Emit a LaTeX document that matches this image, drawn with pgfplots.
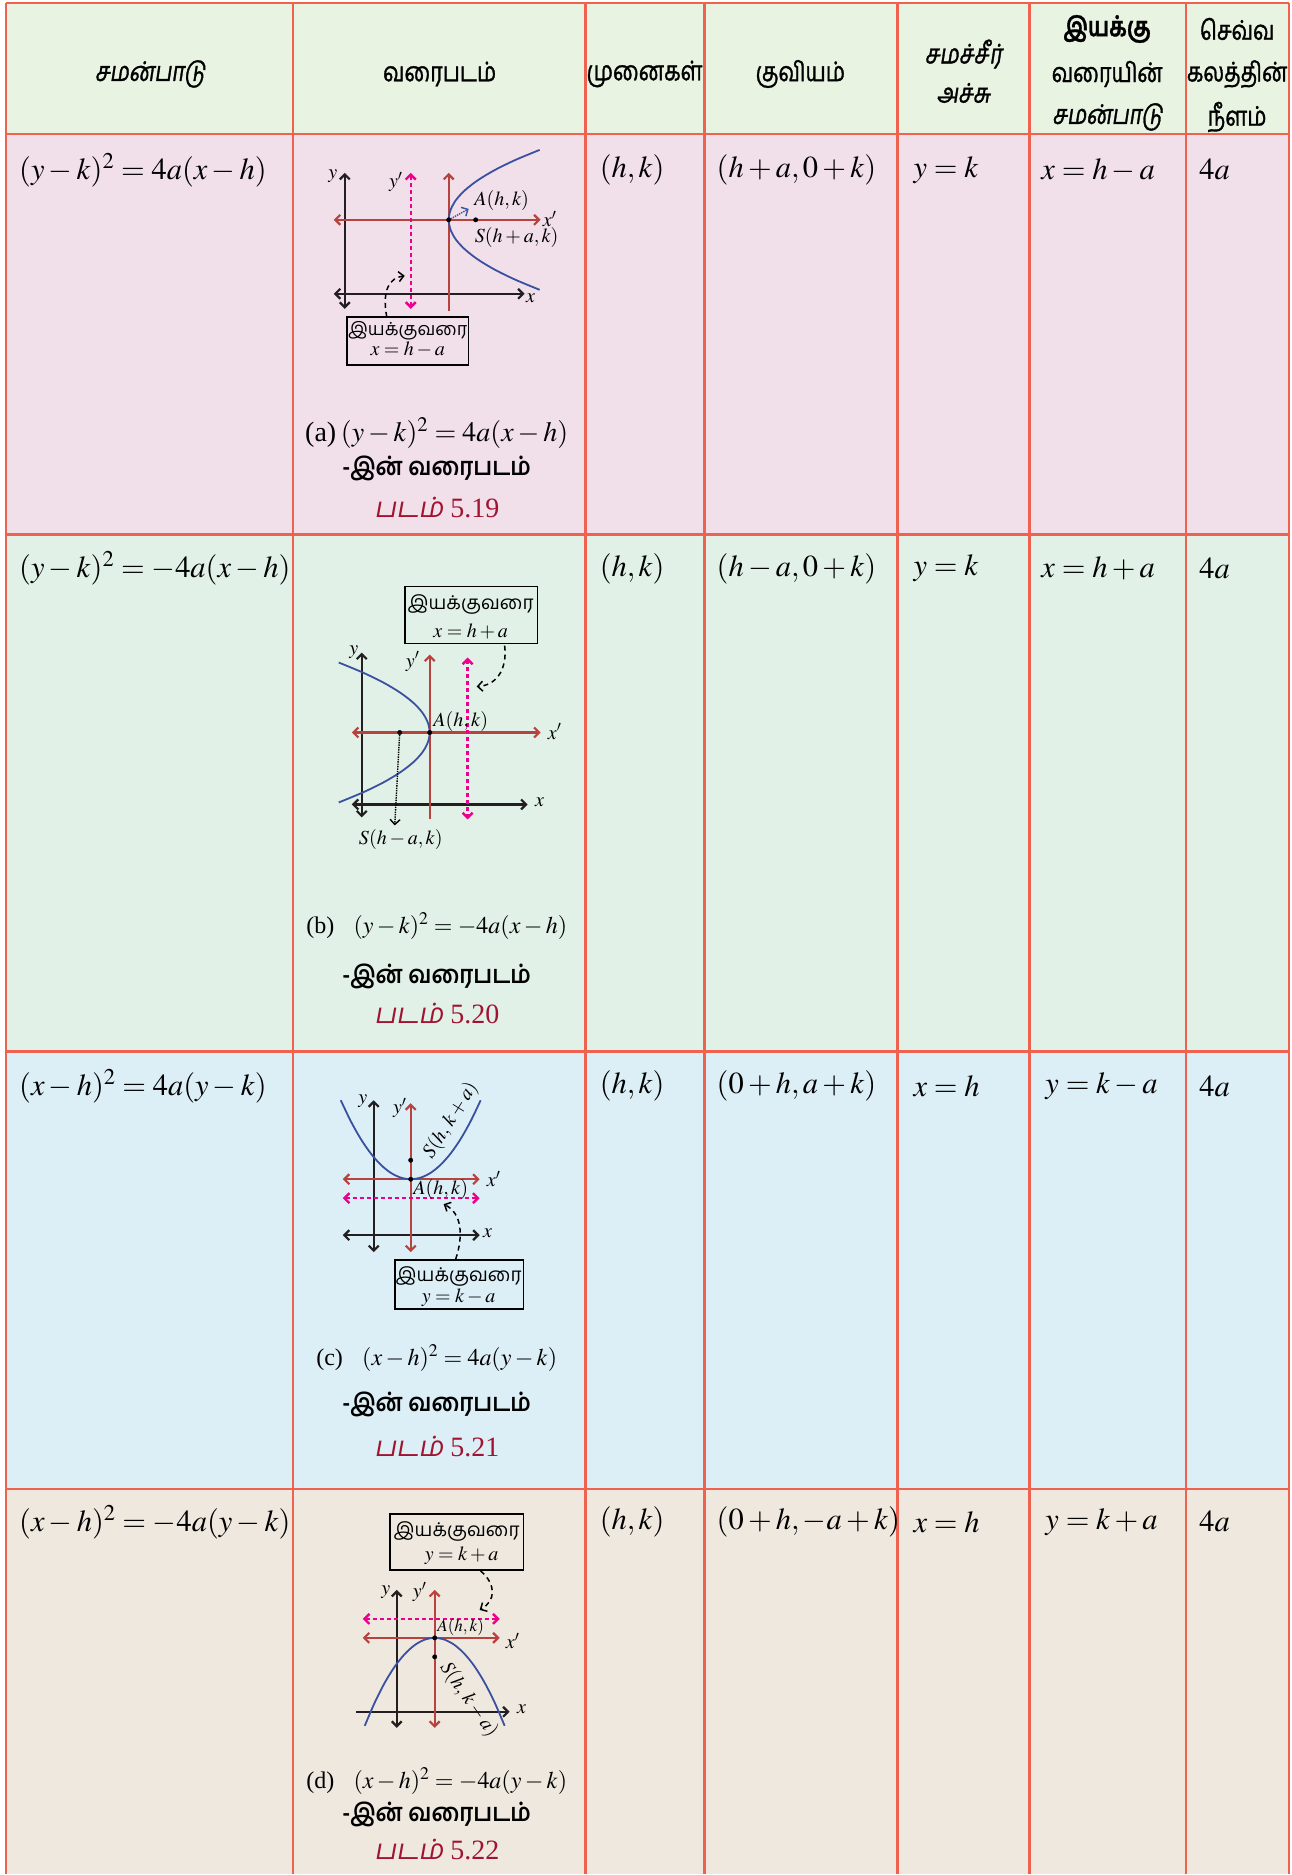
\documentclass[border=0pt]{standalone}
\usepackage{mathptmx}
\usepackage{fontspec}
\setmainfont{Liberation Serif}
\newfontfamily\tamil[Script=Tamil]{Hind Madurai}
\newfontfamily\tamilc[Script=Tamil,FakeStretch=0.8,FakeBold=1.2]{Hind Madurai}
\newfontfamily\tamilcs[Script=Tamil,FakeStretch=0.8,FakeSlant=0.15,FakeBold=1.2]{Hind Madurai}
\newfontfamily\tamilsl[Script=Tamil,FakeSlant=0.18]{Hind Madurai}
\newfontfamily\tamilb[Script=Tamil,FakeStretch=0.9]{Hind Madurai}
\usepackage{pgfplots}
\pgfplotsset{compat=1.18}
\usetikzlibrary{arrows.meta}
\definecolor{tred}{RGB}{240,98,80}
\definecolor{hdr}{RGB}{232,243,226}
\definecolor{rpink}{RGB}{241,223,234}
\definecolor{rgreen}{RGB}{226,241,231}
\definecolor{rblue}{RGB}{220,238,246}
\definecolor{rbeige}{RGB}{239,232,223}
\definecolor{dred}{RGB}{184,66,62}
\definecolor{dmag}{RGB}{236,0,140}
\definecolor{dblue}{RGB}{58,80,160}
\definecolor{dblack}{RGB}{35,31,32}
\definecolor{capred}{RGB}{160,20,50}
\tikzset{>={Straight Barb[length=5pt,width=10pt]}, every node/.style={inner sep=1pt},
  tcap/.style={text height=17pt, text depth=5pt}}
\newcommand{\Mb}[1]{\fontsize{30.5}{36}\selectfont$#1$}
\newcommand{\Md}[1]{\fontsize{20}{24}\selectfont$#1$}
\newcommand{\Hd}{\fontsize{27}{30}\selectfont\tamilc}
\newcommand{\Hds}{\fontsize{27}{30}\selectfont\tamilcs}
\newcommand{\Cb}{\fontsize{25}{28}\selectfont\tamilb\bfseries}
\newcommand{\Cr}[1]{\fontsize{28}{30}\selectfont{\tamilsl படம்} #1}
\begin{document}
\begin{tikzpicture}
\begin{axis}[scale only axis, width=1292pt, height=1875pt,
  xmin=0, xmax=1292, ymin=0, ymax=1875, y dir=reverse,
  hide axis, clip=false]
% backgrounds
\fill[white] (axis cs:0,0) rectangle (axis cs:1292,1875);
\fill[hdr] (axis cs:6,3) rectangle (axis cs:1290,134);
\fill[rpink] (axis cs:6,134) rectangle (axis cs:1290,535);
\fill[rgreen] (axis cs:6,535) rectangle (axis cs:1290,1052);
\fill[rblue] (axis cs:6,1052) rectangle (axis cs:1290,1490);
\fill[rbeige] (axis cs:6,1490) rectangle (axis cs:1290,1875);
% grid
\draw[tred, line width=2.6pt] (axis cs:6,3) -- (axis cs:1290,3);
\draw[tred, line width=2.6pt] (axis cs:6,134) -- (axis cs:1290,134);
\draw[tred, line width=2.6pt] (axis cs:6,535) -- (axis cs:1290,535);
\draw[tred, line width=2.6pt] (axis cs:6,1052) -- (axis cs:1290,1052);
\draw[tred, line width=2.6pt] (axis cs:6,1490) -- (axis cs:1290,1490);
\draw[tred, line width=2.6pt] (axis cs:6,3) -- (axis cs:6,1875);
\draw[tred, line width=2.6pt] (axis cs:293,3) -- (axis cs:293,1875);
\draw[tred, line width=2.6pt] (axis cs:586,3) -- (axis cs:586,1875);
\draw[tred, line width=2.6pt] (axis cs:705,3) -- (axis cs:705,1875);
\draw[tred, line width=2.6pt] (axis cs:898,3) -- (axis cs:898,1875);
\draw[tred, line width=2.6pt] (axis cs:1030,3) -- (axis cs:1030,1875);
\draw[tred, line width=2.6pt] (axis cs:1187,3) -- (axis cs:1187,1875);
\draw[tred, line width=2.6pt] (axis cs:1290,3) -- (axis cs:1290,1875);
% header
\node at (axis cs:150,74) {\Hds சமன்பாடு};
\node at (axis cs:440,74) {\Hd வரைபடம்};
\node at (axis cs:645,74) {\Hd முனைகள்};
\node at (axis cs:801,74) {\Hd குவியம்};
\node at (axis cs:964,54) {\Hds சமச்சீர்};
\node at (axis cs:964,93) {\Hds அச்சு};
\node at (axis cs:1108,29) {\Hd\bfseries இயக்கு};
\node at (axis cs:1108,74) {\Hd வரையின்};
\node at (axis cs:1108,117) {\Hds சமன்பாடு};
\node at (axis cs:1238,29) {\Hd செவ்வ};
\node at (axis cs:1238,74) {\Hd கலத்தின்};
\node at (axis cs:1238,117) {\Hd நீளம்};
% row texts
\node[anchor=west] at (axis cs:18,170) {\Mb{(y-k)^2=4a(x-h)}};
\node[anchor=west] at (axis cs:599,170) {\Mb{(h,k)}};
\node[anchor=west] at (axis cs:716,170) {\Mb{(h+a,0+k)}};
\node[anchor=west] at (axis cs:913,170) {\Mb{y=k}};
\node[anchor=west] at (axis cs:1041,170) {\Mb{x=h-a}};
\node[anchor=west] at (axis cs:1199,170) {\Mb{4a}};
\node[anchor=west] at (axis cs:18,569) {\Mb{(y-k)^2=-4a(x-h)}};
\node[anchor=west] at (axis cs:599,569) {\Mb{(h,k)}};
\node[anchor=west] at (axis cs:716,569) {\Mb{(h-a,0+k)}};
\node[anchor=west] at (axis cs:913,569) {\Mb{y=k}};
\node[anchor=west] at (axis cs:1041,569) {\Mb{x=h+a}};
\node[anchor=west] at (axis cs:1199,569) {\Mb{4a}};
\node[anchor=west] at (axis cs:18,1087) {\Mb{(x-h)^2=4a(y-k)}};
\node[anchor=west] at (axis cs:599,1087) {\Mb{(h,k)}};
\node[anchor=west] at (axis cs:716,1087) {\Mb{(0+h,a+k)}};
\node[anchor=west] at (axis cs:913,1087) {\Mb{x=h}};
\node[anchor=west] at (axis cs:1045,1087) {\Mb{y=k-a}};
\node[anchor=west] at (axis cs:1199,1087) {\Mb{4a}};
\node[anchor=west] at (axis cs:18,1523) {\Mb{(x-h)^2=-4a(y-k)}};
\node[anchor=west] at (axis cs:599,1523) {\Mb{(h,k)}};
\node[anchor=west] at (axis cs:716,1523) {\Mb{(0+h,-a+k)}};
\node[anchor=west] at (axis cs:913,1523) {\Mb{x=h}};
\node[anchor=west] at (axis cs:1045,1523) {\Mb{y=k+a}};
\node[anchor=west] at (axis cs:1199,1523) {\Mb{4a}};
% ===== diagram 1 =====
\addplot[dblack, line width=2.2pt, <->] coordinates {(345,173) (345,309)};
\addplot[dblack, line width=2.2pt, <->] coordinates {(334,294) (525,294)};
\addplot[dred, line width=2.2pt, ->] coordinates {(449,311) (449,173)};
\addplot[dred, line width=2.2pt, <->] coordinates {(334,220) (541,220)};
\addplot[dmag, line width=2.4pt, dash pattern=on 4pt off 3pt, <->] coordinates {(411,173) (411,309)};
\addplot[dblue, line width=1.8pt, smooth] coordinates {(540,150) (515.9,160) (495.4,170) (478.7,180) (465.7,190) (456.4,200) (450.9,210) (449,220) (450.9,230) (456.4,240) (465.7,250) (478.7,260) (495.4,270) (515.9,280) (540,290)};
\addplot[dblue, line width=1.4pt, densely dotted, ->] coordinates {(451,219) (469,209)};
\addplot[only marks, mark=*, mark size=2.2pt, black] coordinates {(449,220) (476,220)};
\node at (axis cs:333,176) {\Md{y}};
\node at (axis cs:396,182) {\Md{y'}};
\node at (axis cs:502,201) {\Md{A(h,k)}};
\node at (axis cs:550,219) {\Md{x'}};
\node at (axis cs:517,238) {\Md{S(h+a,k)}};
\node at (axis cs:531,298) {\Md{x}};
\draw[black, line width=1.5pt, dash pattern=on 5pt off 4pt, ->] (axis cs:387,317) .. controls (axis cs:382,290) and (axis cs:390,278) .. (axis cs:405,276);
\draw[black, line width=1.6pt] (axis cs:347,317) rectangle (axis cs:469,365);
\node at (axis cs:408,331) {\fontsize{18}{20}\selectfont\tamil இயக்குவரை};
\node at (axis cs:408,350) {\Md{x=h-a}};
\node at (axis cs:437,433) {\fontsize{28}{30}\selectfont (a)\,$(y-k)^2=4a(x-h)$};
\node[tcap] at (axis cs:437,470) {\Cb -இன் வரைபடம்};
\node[tcap,capred] at (axis cs:437,512) {\Cr{5.19}};
% ===== diagram 2 =====
\addplot[dblack, line width=2.2pt, <->] coordinates {(362,653) (362,818)};
\addplot[dblack, line width=2.2pt, <->] coordinates {(352,805) (528,805)};
\addplot[dred, line width=2.2pt, ->] coordinates {(430,820) (430,655)};
\addplot[dred, line width=2.2pt, <->] coordinates {(352,733) (541,733)};
\addplot[dmag, line width=2.4pt, dash pattern=on 4pt off 3pt, <->] coordinates {(468,658) (468,820)};
\addplot[dblue, line width=1.8pt, smooth] coordinates {(339,663) (363.1,673) (383.6,683) (400.3,693) (413.3,703) (422.6,713) (428.1,723) (430,733) (428.1,743) (422.6,753) (413.3,763) (400.3,773) (383.6,783) (363.1,793) (339,803)};
\addplot[black, line width=1.4pt, densely dotted, ->] coordinates {(400,733) (395,826)};
\addplot[only marks, mark=*, mark size=2.2pt, black] coordinates {(430,733) (400,733)};
\node at (axis cs:354,653) {\Md{y}};
\node at (axis cs:413,662) {\Md{y'}};
\node at (axis cs:461,722) {\Md{A(h,k)}};
\node at (axis cs:555,732) {\Md{x'}};
\node at (axis cs:540,803) {\Md{x}};
\node at (axis cs:401,840) {\Md{S(h-a,k)}};
\draw[black, line width=1.6pt] (axis cs:405,587) rectangle (axis cs:538,644);
\node at (axis cs:471,605) {\fontsize{19}{22}\selectfont\tamil இயக்குவரை};
\node at (axis cs:471,632) {\Md{x=h+a}};
\draw[black, line width=1.5pt, dash pattern=on 5pt off 4pt, ->] (axis cs:505,646) .. controls (axis cs:508,672) and (axis cs:495,686) .. (axis cs:477,687);
\node at (axis cs:437,927) {\fontsize{24}{26}\selectfont (b)\;\; $(y-k)^2=-4a(x-h)$};
\node[tcap] at (axis cs:437,978) {\Cb -இன் வரைபடம்};
\node[tcap,capred] at (axis cs:437,1018) {\Cr{5.20}};
% ===== diagram 3 =====
\addplot[dblack, line width=2.2pt, <->] coordinates {(374,1101) (374,1253)};
\addplot[dblack, line width=2.2pt, <->] coordinates {(343,1236) (480,1236)};
\addplot[dred, line width=2.2pt, <->] coordinates {(411,1253) (411,1104)};
\addplot[dred, line width=2.2pt, <->] coordinates {(343,1180) (480,1180)};
\addplot[dmag, line width=2.4pt, dash pattern=on 4pt off 3pt, <->] coordinates {(343,1199) (480,1199)};
\addplot[dblue, line width=1.8pt, smooth] coordinates {(341,1101) (351,1121.9) (361,1139.7) (371,1154.2) (381,1165.5) (391,1173.6) (401,1178.4) (411,1180) (421,1178.4) (431,1173.6) (441,1165.5) (451,1154.2) (461,1139.7) (471,1121.9) (481,1101)};
\addplot[only marks, mark=*, mark size=2.2pt, black] coordinates {(411,1180) (411,1161)};
\node at (axis cs:363,1102) {\Md{y}};
\node at (axis cs:400,1109) {\Md{y'}};
\node[rotate=58] at (axis cs:451,1121) {\Md{S(h,\,k+a)}};
\node at (axis cs:441,1190) {\Md{A(h,k)}};
\node at (axis cs:494,1180) {\Md{x'}};
\node at (axis cs:488,1234) {\Md{x}};
\draw[black, line width=1.6pt] (axis cs:395,1261) rectangle (axis cs:524,1310);
\node at (axis cs:459,1277) {\fontsize{19}{22}\selectfont\tamil இயக்குவரை};
\node at (axis cs:459,1299) {\Md{y=k-a}};
\draw[black, line width=1.5pt, dash pattern=on 5pt off 4pt, ->] (axis cs:456,1260) .. controls (axis cs:464,1236) and (axis cs:462,1214) .. (axis cs:444,1205);
\node at (axis cs:437,1359) {\fontsize{24}{26}\selectfont (c)\;\; $(x-h)^2=4a(y-k)$};
\node[tcap] at (axis cs:437,1406) {\Cb -இன் வரைபடம்};
\node[tcap,capred] at (axis cs:437,1451) {\Cr{5.21}};
% ===== diagram 4 =====
\addplot[dblack, line width=2.2pt, <->] coordinates {(397,1591) (397,1729)};
\addplot[dblack, line width=2.2pt, ->] coordinates {(356,1713) (510,1713)};
\addplot[dred, line width=2.2pt, <->] coordinates {(435,1729) (435,1591)};
\addplot[dmag, line width=2.4pt, dash pattern=on 4pt off 3pt, <->] coordinates {(363,1620) (500,1620)};
\addplot[dred, line width=2.2pt, <->] coordinates {(363,1639) (500,1639)};
\addplot[dblue, line width=1.8pt, smooth] coordinates {(365,1727) (375,1703.7) (385,1683.9) (395,1667.7) (405,1655.2) (415,1646.2) (425,1640.8) (435,1639) (445,1640.8) (455,1646.2) (465,1655.2) (475,1667.7) (485,1683.9) (495,1703.7) (505,1727)};
\addplot[only marks, mark=*, mark size=2.2pt, black] coordinates {(435,1639) (435,1658)};
\node at (axis cs:386,1593) {\Md{y}};
\node at (axis cs:420,1593) {\Md{y'}};
\node at (axis cs:461,1628) {\fontsize{17}{20}\selectfont$A(h,k)$};
\node at (axis cs:513,1642) {\Md{x'}};
\node at (axis cs:522,1710) {\Md{x}};
\node[rotate=-55] at (axis cs:469,1701) {\Md{S(h,\,k-a)}};
\draw[black, line width=1.6pt] (axis cs:390,1515) rectangle (axis cs:524,1571);
\node at (axis cs:457,1533) {\fontsize{19}{22}\selectfont\tamil இயக்குவரை};
\node at (axis cs:462,1557) {\Md{y=k+a}};
\draw[black, line width=1.5pt, dash pattern=on 5pt off 4pt, ->] (axis cs:481,1572) .. controls (axis cs:497,1586) and (axis cs:496,1602) .. (axis cs:480,1611);
\node at (axis cs:437,1782) {\fontsize{24}{26}\selectfont (d)\;\; $(x-h)^2=-4a(y-k)$};
\node[tcap] at (axis cs:437,1817) {\Cb -இன் வரைபடம்};
\node[tcap,capred] at (axis cs:437,1855) {\Cr{5.22}};
\end{axis}
\end{tikzpicture}
\end{document}
